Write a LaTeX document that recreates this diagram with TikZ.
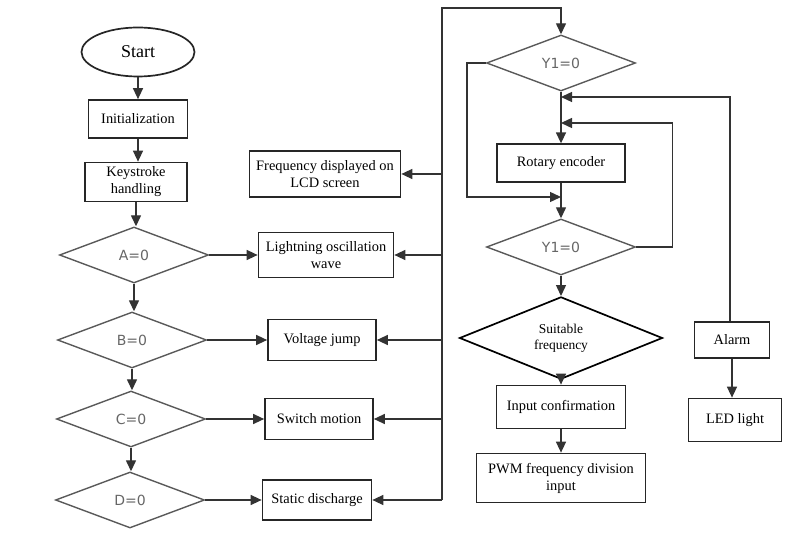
\documentclass[tikz,border=0pt]{standalone}
\usepackage{fontspec}
\setmainfont{Liberation Serif}
\newfontfamily\dsans{DejaVu Sans}
\usepackage{tikz}
\usetikzlibrary{shapes.geometric,arrows.meta}

\begin{document}
\begin{tikzpicture}[x=1pt,y=-1pt,
		box/.style={draw=black!85, line width=1.7pt, rectangle, inner sep=0pt, align=center, font=\fontsize{14.4}{17}\selectfont},
		cond/.style={draw=black!65, line width=1.4pt, diamond, inner sep=0pt, minimum width=149pt, minimum height=56pt, font=\dsans\fontsize{14}{16}\selectfont, text=black!60},
		line/.style={draw=black!80, line width=1.4pt},
		>={Triangle[length=11pt,width=10pt]}]
	\useasboundingbox (0,0) rectangle (801,534);
	
	% left column
	\node[draw=black!85, line width=1.7pt, ellipse, minimum width=113pt, minimum height=49pt, font=\fontsize{18}{20}\selectfont] (start) at (138,52) {Start};
	\node[box, minimum width=99pt, minimum height=38pt] (init) at (138,119) {Initialization};
	\node[box, minimum width=102pt, minimum height=39pt] (keys) at (136,182) {Keystroke\\handling};
	\node[cond] (dA) at (134,255) {A=0};
	\node[cond] (dB) at (132,340) {B=0};
	\node[cond] (dC) at (131,419) {C=0};
	\node[cond] (dD) at (130,500) {D=0};
	
	% middle column
	\node[box, minimum width=151pt, minimum height=46pt] (lcd) at (325,174) {Frequency displayed on\\LCD screen};
	\node[box, minimum width=135pt, minimum height=45pt] (wave) at (326,255) {Lightning oscillation\\wave};
	\node[box, minimum width=108pt, minimum height=41pt] (jump) at (322,340) {Voltage jump};
	\node[box, minimum width=108pt, minimum height=41pt] (motion) at (319,419) {Switch motion};
	\node[box, minimum width=109pt, minimum height=40pt] (discharge) at (317,500) {Static discharge};
	
	% right column
	\node[cond] (yA) at (561,63) {Y1=0};
	\node[box, line width=1.3pt, minimum width=128pt, minimum height=38pt] (rotary) at (561,163) {Rotary encoder};
	\node[cond] (yB) at (561,247) {Y1=0};
	\node[draw=black, line width=1.7pt, diamond, inner sep=0pt, minimum width=203pt, minimum height=73pt, align=center, font=\fontsize{13.5}{16}\selectfont] (suit) at (561,338) {Suitable\\frequency};
	\node[box, minimum width=129pt, minimum height=43pt] (confirm) at (561,407) {Input confirmation};
	\node[box, minimum width=169pt, minimum height=49pt] (pwm) at (561,478) {PWM frequency division\\input};
	\node[box, minimum width=75pt, minimum height=36pt] (alarm) at (732,340) {Alarm};
	\node[box, minimum width=93pt, minimum height=43pt] (led) at (735,420) {LED light};
	
	\coordinate (bustop) at (442,8);
	\coordinate (busbot) at (442,500);
	\coordinate (m1) at (561,97);
	\coordinate (m2) at (561,123);
	\coordinate (m3) at (561,197);
	
	\draw[line,->] (start) -- (start |- init.north);
	\draw[line,->] (init) -- (init |- keys.north);
	\draw[line,->] (keys) -- (keys |- dA.north);
	\draw[line,->] (dA) -- (dA |- dB.north);
	\draw[line,->] (dB) -- (dB |- dC.north);
	\draw[line,->] (dC) -- (dC |- dD.north);
	
	\draw[line,->] (dA.east) -- (wave.west);
	\draw[line,->] (dB.east) -- (jump.west);
	\draw[line,->] (dC.east) -- (motion.west);
	\draw[line,->] (dD.east) -- (discharge.west);
	
	\draw[line,->] (busbot) -- (bustop) -- (bustop -| yA) -- (yA.north);
	\draw[line,->] (lcd.east -| bustop) -- (lcd.east);
	\draw[line,->] (wave.east -| bustop) -- (wave.east);
	\draw[line,->] (jump.east -| bustop) -- (jump.east);
	\draw[line,->] (motion.east -| bustop) -- (motion.east);
	\draw[line,->] (discharge.east -| bustop) -- (discharge.east);
	
	\draw[line,->] (yA.south) -- (rotary.north);
	\draw[line,->] (yA.west) -- ++(-19,0) |- (m3);
	\draw[line,->] (rotary.south) -- (yB.north);
	\draw[line,->] (yB.east) -- ++(36,0) |- (m2);
	\draw[line,->] (alarm.north -| 730,0) |- (m1);
	\draw[line,->] (yB.south) -- (suit.north);
	\draw[line,->] (suit.south) -- (confirm.north);
	\draw[line,->] (confirm.south) -- (pwm.north);
	\draw[line,->] (alarm.south) -- (alarm.south |- led.north);
\end{tikzpicture}
\end{document}
